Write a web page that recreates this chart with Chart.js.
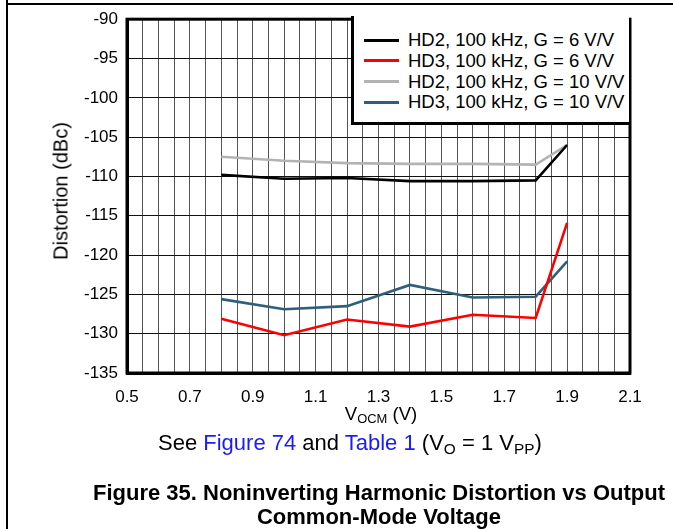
<!DOCTYPE html>
<html>
<head>
<meta charset="utf-8">
<script src="https://cdn.jsdelivr.net/npm/chart.js@4"></script>
<style>
  body { margin: 0; background: #fff; font-family: "Liberation Sans", Arial, sans-serif; }
  #wrap { position: relative; width: 673px; height: 529px; overflow: hidden; }
  canvas { position: absolute; left: 0; top: 0; }
  .frameTop { position: absolute; left: 7px; top: 3px; width: 670px; height: 1.5px; background: #000; }
  .frameLeft { position: absolute; left: 6px; top: 0; width: 1.5px; height: 529px; background: #000; }
  .txt { position: absolute; white-space: nowrap; color: #000; }
  sub { font-size: 70%; vertical-align: -0.25em; line-height: 0; }
  .blue { color: #1a1aff; }
  #legend { position: absolute; left: 351px; top: 16px; width: 278px; height: 109px; background: #fff;
            border: 3px solid #000; border-top: none; border-right: none; box-sizing: border-box; }
  .row { position: absolute; left: 0; height: 20px; }
  .swatch { position: absolute; left: 10px; width: 35px; height: 3px; }
  .lab { position: absolute; left: 54px; font-size: 18.5px; line-height: 20px; top: -10px; white-space: nowrap; }
</style>
</head>
<body>
<div id="wrap">
  <canvas id="chart" width="673" height="529"></canvas>
  <div class="frameTop"></div>
  <div class="frameLeft"></div>
  <div id="legend"></div>
  <div class="txt" style="left:61px; top:191px; font-size:20px; transform: translate(-50%,-50%) rotate(-90deg);">Distortion (dBc)</div>
  <div class="txt" style="left:381px; top:414px; font-size:18.5px; transform: translate(-50%,-50%);">V<sub>OCM</sub> (V)</div>
  <div class="txt" style="left:158px; top:443px; font-size:22px; transform: translateY(-50%);">See <span class="blue">Figure 74</span> and <span class="blue">Table 1</span> (V<sub>O</sub> = 1 V<sub>PP</sub>)</div>
  <div class="txt" style="left:379px; top:493px; font-size:22px; font-weight:bold; transform: translate(-50%,-50%);">Figure 35. Noninverting Harmonic Distortion vs Output</div>
  <div class="txt" style="left:379px; top:517px; font-size:22px; font-weight:bold; transform: translate(-50%,-50%);">Common-Mode Voltage</div>
</div>
<script>
// VOCM (V)
const vocm = [0.8, 1.0, 1.2, 1.4, 1.6, 1.8, 1.9];

// Distortion (dBc)
const hd2G6  = [-109.8, -110.3, -110.2, -110.6, -110.6, -110.5, -106.0];
const hd3G6  = [-128.1, -130.2, -128.2, -129.1, -127.6, -128.0, -115.9];
const hd2G10 = [-107.5, -108.0, -108.3, -108.4, -108.4, -108.5, -106.0];
const hd3G10 = [-125.6, -126.9, -126.5, -123.8, -125.4, -125.3, -120.8];

const seriesNames = ['HD2, 100 kHz, G = 6 V/V', 'HD3, 100 kHz, G = 6 V/V', 'HD2, 100 kHz, G = 10 V/V', 'HD3, 100 kHz, G = 10 V/V'];
const seriesColors = ['#000000', '#ff0000', '#b3b3b3', '#2f5f7a'];

const xTicks = [];
for (let i = 0; i <= 32; i++) xTicks.push(Math.round((0.5 + i * 0.05) * 100) / 100);

function pts(ys) { return vocm.map((x, i) => ({ x: x, y: ys[i] })); }

// legenda em HTML
const legend = document.getElementById('legend');
seriesNames.forEach((name, i) => {
    const row = document.createElement('div');
    row.className = 'row';
    row.style.top = (24 + i * 20.8) + 'px';
    row.innerHTML = `<div class="swatch" style="background:${seriesColors[i]}; top:-1.5px"></div><div class="lab">${name}</div>`;
    legend.appendChild(row);
});

const frame = {
    id: 'frame',
    afterDraw(chart) {
        const a = chart.chartArea, c = chart.ctx;
        c.save();
        c.strokeStyle = '#000';
        c.lineWidth = 3;
        c.strokeRect(a.left, a.top, a.right - a.left, a.bottom - a.top);
        c.restore();
    }
};

new Chart(document.getElementById('chart'), {
    type: 'line',
    data: {
        datasets: [hd2G6, hd3G6, hd2G10, hd3G10].map((ys, i) => ({
            label: seriesNames[i],
            data: pts(ys),
            borderColor: seriesColors[i],
            borderWidth: 2.6,
            pointRadius: 0,
            tension: 0,
            fill: false
        }))
    },
    options: {
        responsive: false,
        devicePixelRatio: 1,
        animation: false,
        layout: { padding: { left: 0, top: 17, right: 43, bottom: 0 } },
        plugins: { legend: { display: false }, tooltip: { enabled: false } },
        scales: {
            x: {
                type: 'linear',
                min: 0.5,
                max: 2.1,
                afterBuildTicks: (s) => { s.ticks = xTicks.map(v => ({ value: v })); },
                afterFit: (s) => { s.height = 156; },
                ticks: {
                    autoSkip: false,
                    maxRotation: 0,
                    padding: 14,
                    color: '#000',
                    font: { family: 'Liberation Sans', size: 17 },
                    callback: (v, i) => (i % 4 === 0 ? Number(v).toFixed(1) : '')
                },
                grid: { color: '#555', lineWidth: 1, drawTicks: false },
                border: { color: '#000', width: 3 }
            },
            y: {
                min: -135,
                max: -90,
                afterFit: (s) => { s.width = 127; },
                ticks: {
                    stepSize: 5,
                    padding: 9,
                    color: '#000',
                    font: { family: 'Liberation Sans', size: 17 }
                },
                grid: { color: '#111', lineWidth: 1, drawTicks: false },
                border: { color: '#000', width: 3 }
            }
        }
    },
    plugins: [frame]
});
</script>
</body>
</html>
